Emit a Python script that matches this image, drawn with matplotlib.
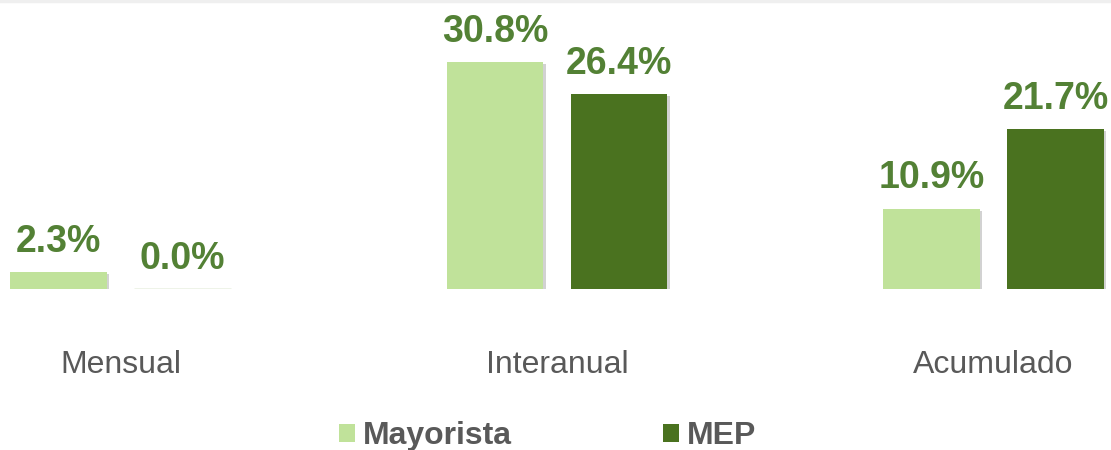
import numpy as np
import matplotlib
matplotlib.use("Agg")
from matplotlib import pyplot as plt
from matplotlib import patheffects as pe
from matplotlib.lines import Line2D
from matplotlib.patches import Patch

# Chart data
categories = ["Mensual", "Interanual", "Acumulado"]
series_names = ["Mayorista", "MEP"]
mayorista = [2.3, 30.8, 10.9]
mep = [0.0, 26.4, 21.7]

light_green = "#C0E29A"
dark_green = "#4A721F"
label_green = "#538135"
grey_text = "#595959"

plt.rcParams["font.family"] = ["Liberation Sans", "DejaVu Sans"]

fig = plt.figure(figsize=(11.11, 4.5), dpi=100)
ax = fig.add_axes([0.0, 0.3578, 1.0, 0.6422])

x = np.arange(len(categories))
width = 0.222
offset = 0.142

shadow = [pe.SimplePatchShadow(offset=(1.5, -1.5), shadow_rgbFace="#7f7f7f", alpha=0.35), pe.Normal()]

bars1 = ax.bar(x - offset, mayorista, width, color=light_green, path_effects=shadow)
bars2 = ax.bar(x + offset, mep, width, color=dark_green, path_effects=shadow)
# the zero bar still shows as a thin line on the baseline
for b, v in zip(bars2, mep):
    if v == 0:
        b.set_edgecolor("#A9C38C")
        b.set_linewidth(1.0)

for bars, vals in ((bars1, mayorista), (bars2, mep)):
    for b, v in zip(bars, vals):
        ax.annotate(f"{v:.1f}%", (b.get_x() + b.get_width() / 2, v),
                    xytext=(0, 14.5), textcoords="offset points",
                    ha="center", va="baseline", fontsize=27, fontweight="bold",
                    color=label_green)

ax.set_xlim(-0.276, 2.269)
ax.set_ylim(0, 39.2)
ax.axis("off")

# category labels under the groups
for xi, cat in zip(x, categories):
    ax.annotate(cat, (xi, 0), xytext=(0, -54.5), textcoords="offset points",
                ha="center", va="center", fontsize=23, color=grey_text)

handles = [Patch(facecolor=light_green), Patch(facecolor=dark_green)]
fig.legend(handles=handles, labels=series_names, loc="center left",
           bbox_to_anchor=(0.3055, 0.031), ncol=2, frameon=False,
           prop={"size": 23, "weight": "bold"}, labelcolor=grey_text,
           handlelength=0.5, handleheight=0.5, handletextpad=0.25,
           columnspacing=4.72, borderpad=0, borderaxespad=0)

# thin grey strip along the top edge
fig.add_artist(Line2D([0, 1], [0.997, 0.997], transform=fig.transFigure,
                      color="#EFEFEF", linewidth=2.5))

fig.savefig("out.png", dpi=100)
